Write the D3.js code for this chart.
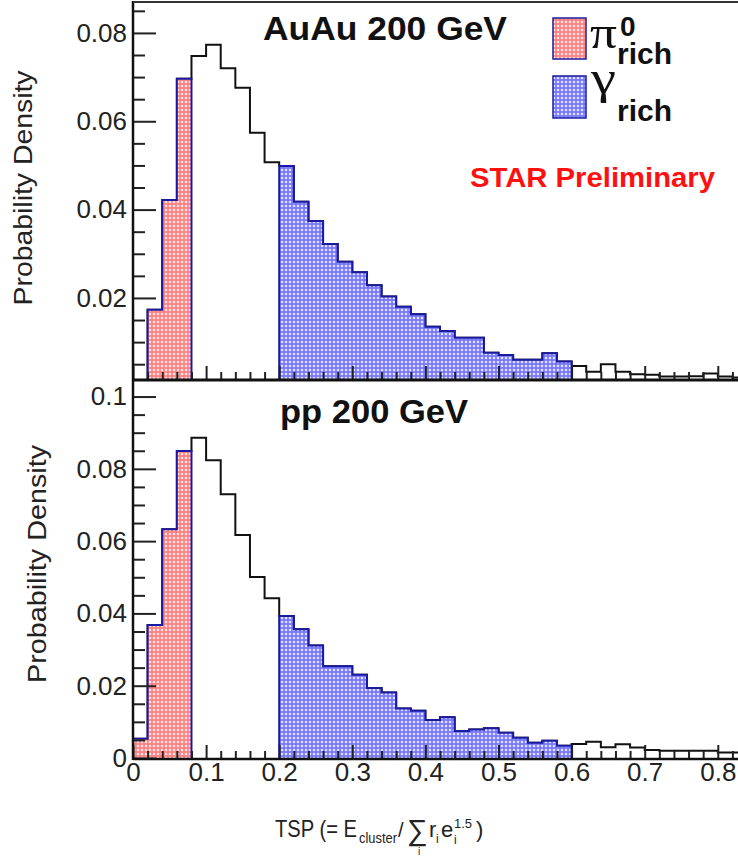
<!DOCTYPE html>
<html>
<head>
<meta charset="utf-8">
<script src="https://cdn.jsdelivr.net/npm/d3@7"></script>
<style>
  html, body { margin: 0; padding: 0; background: #fff; }
  svg { display: block; font-family: "Liberation Sans", Arial, Helvetica, sans-serif; }
</style>
</head>
<body>
<div id="chart"></div>
<script>
/** histogram bins (lower edges, width 0.02) */
const tspBinLow = [0.00, 0.02, 0.04, 0.06, 0.08, 0.10, 0.12, 0.14, 0.16, 0.18,
                   0.20, 0.22, 0.24, 0.26, 0.28, 0.30, 0.32, 0.34, 0.36, 0.38,
                   0.40, 0.42, 0.44, 0.46, 0.48, 0.50, 0.52, 0.54, 0.56, 0.58,
                   0.60, 0.62, 0.64, 0.66, 0.68, 0.70, 0.72, 0.74, 0.76, 0.78,
                   0.80, 0.82];
const binWidth = 0.02;

/** AuAu 200 GeV probability density */
const auauDensity = [0.0000, 0.0173, 0.0422, 0.0696, 0.0748, 0.0773, 0.0720, 0.0676, 0.0574, 0.0507,
                     0.0499, 0.0418, 0.0374, 0.0322, 0.0282, 0.0258, 0.0229, 0.0203, 0.0180, 0.0163,
                     0.0135, 0.0125, 0.0110, 0.0110, 0.0076, 0.0071, 0.0060, 0.0060, 0.0075, 0.0056,
                     0.0046, 0.0033, 0.0050, 0.0033, 0.0027, 0.0026, 0.0022, 0.0022, 0.0023, 0.0029,
                     0.0022, 0.0020];

/** pp 200 GeV probability density */
const ppDensity = [0.0053, 0.0368, 0.0633, 0.0849, 0.0886, 0.0824, 0.0730, 0.0617, 0.0501, 0.0442,
                   0.0393, 0.0356, 0.0311, 0.0254, 0.0254, 0.0230, 0.0194, 0.0181, 0.0137, 0.0131,
                   0.0105, 0.0113, 0.0075, 0.0079, 0.0082, 0.0070, 0.0056, 0.0042, 0.0048, 0.0034,
                   0.0039, 0.0045, 0.0030, 0.0038, 0.0029, 0.0022, 0.0020, 0.0020, 0.0020, 0.0020,
                   0.0015, 0.0015];

/** selection windows */
const pi0Window = [0.00, 0.08];
const gammaWindow = [0.20, 0.60];

/** ticks */
const xTicks = [0, 0.1, 0.2, 0.3, 0.4, 0.5, 0.6, 0.7, 0.8];
const xTickLabels = ["0", "0.1", "0.2", "0.3", "0.4", "0.5", "0.6", "0.7", "0.8"];
const xMinorTicks = [0.02, 0.04, 0.06, 0.08, 0.12, 0.14, 0.16, 0.18, 0.22, 0.24, 0.26, 0.28,
                     0.32, 0.34, 0.36, 0.38, 0.42, 0.44, 0.46, 0.48, 0.52, 0.54, 0.56, 0.58,
                     0.62, 0.64, 0.66, 0.68, 0.72, 0.74, 0.76, 0.78, 0.82];
const auauYTicks = [0.02, 0.04, 0.06, 0.08];
const auauYTickLabels = ["0.02", "0.04", "0.06", "0.08"];
const auauYMinor = [0.005, 0.01, 0.015, 0.025, 0.03, 0.035, 0.045, 0.05, 0.055,
                    0.065, 0.07, 0.075, 0.085];
const ppYTicks = [0, 0.02, 0.04, 0.06, 0.08, 0.1];
const ppYTickLabels = ["0", "0.02", "0.04", "0.06", "0.08", "0.1"];
const ppYMinor = [0.005, 0.01, 0.015, 0.025, 0.03, 0.035, 0.045, 0.05, 0.055,
                  0.065, 0.07, 0.075, 0.085, 0.09, 0.095];

/** canvas */
let width = 738, height = 856;
let plotLeft = 133, plotRight = 740;
let topPad = { top: 2, bottom: 379 };
let botPad = { top: 381, bottom: 758 };

let svg = d3.select('#chart').append('svg')
    .attr('width', width)
    .attr('height', height);

let defs = svg.append('defs');

/** dotted fills like the ROOT fill styles */
let redPat = defs.append('pattern').attr('id', 'redDots')
    .attr('width', 4).attr('height', 4).attr('patternUnits', 'userSpaceOnUse');
redPat.append('rect').attr('width', 4).attr('height', 4).attr('fill', '#ff8080');
redPat.append('circle').attr('cx', 2).attr('cy', 2).attr('r', 1.3).attr('fill', '#ffe6e6');

let bluePat = defs.append('pattern').attr('id', 'blueDots')
    .attr('width', 4).attr('height', 4).attr('patternUnits', 'userSpaceOnUse');
bluePat.append('rect').attr('width', 4).attr('height', 4).attr('fill', '#7878ff');
bluePat.append('circle').attr('cx', 2).attr('cy', 2).attr('r', 1.3).attr('fill', '#e2e2ff');

let xScale = d3.scaleLinear()
    .domain([0, 0.83])
    .range([plotLeft, plotLeft + 0.83 * 731]);

let auauY = d3.scaleLinear().domain([0.00165, 0.087]).range([topPad.bottom, topPad.top]);
let ppY = d3.scaleLinear().domain([0, 0.1043]).range([botPad.bottom, botPad.top]);

/** draw one histogram panel */
function drawPanel (name, values, yScale, pad, yTicks, yLabels, yMinor) {

    defs.append('clipPath').attr('id', 'clip-' + name)
        .append('rect')
        .attr('x', plotLeft).attr('y', pad.top)
        .attr('width', plotRight - plotLeft).attr('height', pad.bottom - pad.top);

    let g = svg.append('g').attr('clip-path', `url(#clip-${name})`);

    let bins = tspBinLow.map((b, i) => ({ x: b, v: values[i] }));
    let last = bins[bins.length - 1];
    let stepped = bins.concat([{ x: last.x + binWidth, v: last.v }]);
    let base = yScale.domain()[0];

    /** full histogram, black outline */
    let outline = [{ x: 0, v: base }].concat(stepped);
    let lineGen = d3.line()
        .x(d => xScale(d.x))
        .y(d => yScale(d.v))
        .curve(d3.curveStepAfter);
    g.append('path')
        .attr('d', lineGen(outline))
        .attr('fill', 'none')
        .attr('stroke', '#111')
        .attr('stroke-width', 2);

    /** filled windows */
    let areaGen = d3.area()
        .x(d => xScale(d.x))
        .y0(yScale(Math.min(0, base)) + 2)
        .y1(d => yScale(d.v))
        .curve(d3.curveStepAfter);

    function windowBins (w) {
        let sel = bins.filter(d => d.x >= w[0] - 1e-9 && d.x < w[1] - 1e-9);
        let l = sel[sel.length - 1];
        return sel.concat([{ x: l.x + binWidth, v: l.v }]);
    }

    [[pi0Window, 'url(#redDots)'], [gammaWindow, 'url(#blueDots)']].forEach(function (p) {
        g.append('path')
            .attr('d', areaGen(windowBins(p[0])))
            .attr('fill', p[1])
            .attr('stroke', '#1a1aa0')
            .attr('stroke-width', 2);
    });

    /** y axis */
    let yAxis = d3.axisLeft(yScale)
        .tickValues(yTicks)
        .tickFormat((d, i) => yLabels[i])
        .tickSize(-23)
        .tickPadding(6);
    let ya = svg.append('g')
        .attr('transform', `translate(${plotLeft},0)`)
        .call(yAxis);
    ya.select('.domain').remove();
    ya.selectAll('line').attr('stroke', '#222').attr('stroke-width', 2);
    ya.selectAll('text')
        .style('font-size', '26px')
        .attr('fill', '#222');

    let yMinorAxis = d3.axisLeft(yScale).tickValues(yMinor).tickSize(-12).tickFormat('');
    let ym = svg.append('g')
        .attr('transform', `translate(${plotLeft},0)`)
        .call(yMinorAxis);
    ym.select('.domain').remove();
    ym.selectAll('line').attr('stroke', '#222').attr('stroke-width', 2);

    /** x ticks */
    let xAxis = d3.axisBottom(xScale).tickValues(xTicks).tickSize(-13)
        .tickFormat(name === 'pp' ? (d, i) => xTickLabels[i] : '')
        .tickPadding(5);
    let xa = svg.append('g')
        .attr('transform', `translate(0,${pad.bottom})`)
        .call(xAxis);
    xa.select('.domain').remove();
    xa.selectAll('line').attr('stroke', '#222').attr('stroke-width', 2);
    xa.selectAll('text')
        .style('font-size', '26px')
        .attr('fill', '#222');

    let xMinorAxis = d3.axisBottom(xScale).tickValues(xMinorTicks).tickSize(-7).tickFormat('');
    let xm = svg.append('g')
        .attr('transform', `translate(0,${pad.bottom})`)
        .call(xMinorAxis);
    xm.select('.domain').remove();
    xm.selectAll('line').attr('stroke', '#222').attr('stroke-width', 2);
}

drawPanel('auau', auauDensity, auauY, topPad, auauYTicks, auauYTickLabels, auauYMinor);
drawPanel('pp', ppDensity, ppY, botPad, ppYTicks, ppYTickLabels, ppYMinor);

/** frame */
svg.append('line').attr('x1', plotLeft).attr('x2', plotLeft).attr('y1', 1).attr('y2', 760)
    .attr('stroke', '#111').attr('stroke-width', 2.5);
svg.append('line').attr('x1', plotLeft).attr('x2', width).attr('y1', 2).attr('y2', 2)
    .attr('stroke', '#333').attr('stroke-width', 2);
svg.append('line').attr('x1', plotLeft).attr('x2', width).attr('y1', 380).attr('y2', 380)
    .attr('stroke', '#111').attr('stroke-width', 3);
svg.append('line').attr('x1', plotLeft).attr('x2', width).attr('y1', 759).attr('y2', 759)
    .attr('stroke', '#111').attr('stroke-width', 2.5);

/** helper for stretched text */
function label (x, y, str, size, len, opts) {
    opts = opts || {};
    let t = svg.append('text')
        .attr('x', x).attr('y', y)
        .style('font-size', size + 'px')
        .attr('fill', opts.fill || '#111')
        .text(str);
    if (len) t.attr('textLength', len).attr('lengthAdjust', 'spacingAndGlyphs');
    if (opts.bold) t.style('font-weight', 'bold');
    if (opts.family) t.style('font-family', opts.family);
    if (opts.transform) t.attr('transform', opts.transform).attr('text-anchor', 'middle');
    return t;
}

/** one text made of placed pieces (sub/superscripts) */
function formula (pieces, fill) {
    let t = svg.append('text').attr('fill', fill || '#111');
    pieces.forEach(function (p) {
        let s = t.append('tspan')
            .attr('x', p.x).attr('y', p.y)
            .style('font-size', p.size + 'px')
            .text(p.s);
        if (p.bold) s.style('font-weight', 'bold');
        if (p.family) s.style('font-family', p.family);
        if (p.len) s.attr('textLength', p.len).attr('lengthAdjust', 'spacingAndGlyphs');
    });
    return t;
}

/** y titles */
label(0, 0, 'Probability Density', 25, 235, { transform: 'translate(32,188) rotate(-90)', fill: '#222' });
label(0, 0, 'Probability Density', 25, 238, { transform: 'translate(46,564) rotate(-90)', fill: '#222' });

/** panel titles */
label(263, 40, 'AuAu 200 GeV', 33, 244, { bold: true });
label(280, 423, 'pp 200 GeV', 34, 188, { bold: true });
label(470, 187, 'STAR Preliminary', 27, 245, { bold: true, fill: '#ff1010' });

/** legend */
svg.append('rect').attr('x', 553).attr('y', 18).attr('width', 33).attr('height', 41)
    .attr('fill', 'url(#redDots)').attr('stroke', '#1a1aa0').attr('stroke-width', 1.5);
svg.append('rect').attr('x', 553).attr('y', 76).attr('width', 33).attr('height', 42)
    .attr('fill', 'url(#blueDots)').attr('stroke', '#1a1aa0').attr('stroke-width', 1.5);

let serif = '"Liberation Serif", "DejaVu Serif", serif';
formula([
    { x: 590, y: 48, s: 'π', size: 46, len: 27, family: serif },
    { x: 620, y: 36, s: '0', size: 28, bold: true },
    { x: 617, y: 64, s: 'rich', size: 30, len: 55, bold: true }
]);
formula([
    { x: 591, y: 93, s: 'γ', size: 46, len: 25, family: serif },
    { x: 617, y: 121, s: 'rich', size: 30, len: 55, bold: true }
]);

/** x title: TSP (= E_cluster / sum_i r_i e_i^1.5) */
formula([
    { x: 275, y: 837, s: 'TSP (= E', size: 24, len: 82 },
    { x: 359, y: 843, s: 'cluster', size: 15, len: 38 },
    { x: 398, y: 837, s: '/', size: 20 },
    { x: 407, y: 840, s: '∑', size: 29 },
    { x: 418, y: 855, s: 'i', size: 10 },
    { x: 429, y: 837, s: 'r', size: 22 },
    { x: 436, y: 843, s: 'i', size: 12 },
    { x: 441, y: 837, s: 'e', size: 22 },
    { x: 454, y: 844, s: 'i', size: 12 },
    { x: 454, y: 828, s: '1.5', size: 13 },
    { x: 476, y: 837, s: ')', size: 22 }
], '#222');
</script>
</body>
</html>
